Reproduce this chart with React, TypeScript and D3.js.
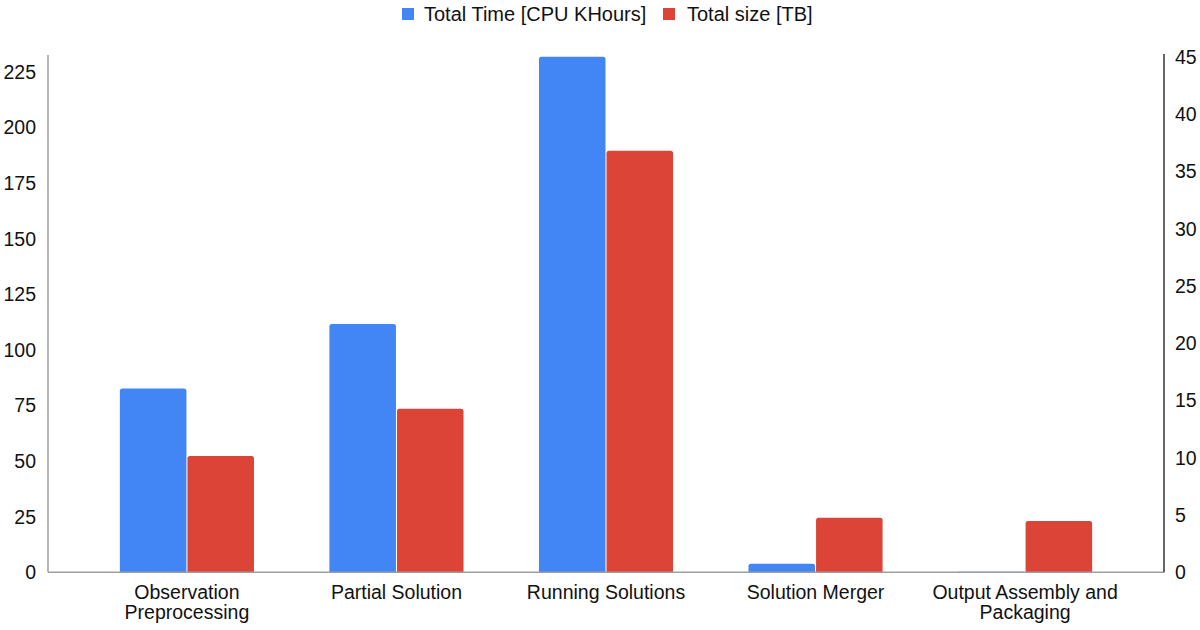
import React from 'react';
import * as d3 from 'd3';

const categories = [
  'Observation Preprocessing',
  'Partial Solution',
  'Running Solutions',
  'Solution Merger',
  'Output Assembly and Packaging',
];
const categoryLines = [
  ['Observation', 'Preprocessing'],
  ['Partial Solution'],
  ['Running Solutions'],
  ['Solution Merger'],
  ['Output Assembly and', 'Packaging'],
];
const totalTime = [82.7, 111.7, 231.9, 3.9, 0.3];
const totalSize = [10.16, 14.29, 36.82, 4.77, 4.48];
const leftTicks = [0, 25, 50, 75, 100, 125, 150, 175, 200, 225];
const rightTicks = [0, 5, 10, 15, 20, 25, 30, 35, 40, 45];
const seriesNames = ['Total Time [CPU KHours]', 'Total size [TB]'];
const seriesColors = ['#4285f4', '#db4437'];

const W = 1200;
const H = 630;
const FONT = '"Liberation Sans", Arial, sans-serif';

export default function App() {
  const margin = { top: 57, right: 36, bottom: 58, left: 48 };
  const x0 = margin.left;
  const x1 = W - margin.right;
  const yBase = H - margin.bottom + 0.3;

  const x = d3.scaleBand<string>()
    .domain(categories)
    .range([x0, x1])
    .paddingInner(0.36)
    .paddingOuter(0.343);

  const xs = d3.scaleBand<number>()
    .domain([0, 1])
    .range([0, x.bandwidth()])
    .paddingInner(0.015);

  const yL = d3.scaleLinear().domain([0, 231.75]).range([yBase, margin.top]);
  const yR = d3.scaleLinear().domain([0, 45]).range([yBase, margin.top]);

  const bars = categories.flatMap((c, i) => [
    { c, s: 0, y: yL(totalTime[i]) },
    { c, s: 1, y: yR(totalSize[i]) },
  ]);

  // legend layout
  const legendItems = [
    { x: 402, textX: 424 },
    { x: 663, textX: 687 },
  ];

  return (
    <div style={{ position: 'fixed', left: 0, top: 0 }}>
      <svg width={W} height={H} style={{ display: 'block', background: '#fff' }} fontFamily={FONT}>
        {/* legend */}
        {seriesNames.map((name, i) => (
          <g key={name}>
            <rect x={legendItems[i].x} y={8} width={12} height={12} fill={seriesColors[i]} />
            <text x={legendItems[i].textX} y={21} fontSize={20} fill="#111">{name}</text>
          </g>
        ))}

        {/* bars */}
        {bars.map((b, i) => {
          const bx = (x(b.c) as number) + (xs(b.s) as number);
          const h = Math.max(0, yBase - b.y);
          const r = Math.min(2.5, h);
          const w = xs.bandwidth();
          const d = `M${bx},${yBase} V${b.y + r} Q${bx},${b.y} ${bx + r},${b.y} H${bx + w - r} Q${bx + w},${b.y} ${bx + w},${b.y + r} V${yBase} Z`;
          return <path key={i} d={d} fill={seriesColors[b.s]} />;
        })}

        {/* baseline & axis lines */}
        <line x1={x0} x2={x1} y1={yBase} y2={yBase} stroke="#9e9e9e" strokeWidth={1.5} />
        <line x1={x0} x2={x0} y1={yBase} y2={margin.top - 2} stroke="#9e9e9e" strokeWidth={1.5} />
        <line x1={x1} x2={x1} y1={yBase} y2={margin.top - 3} stroke="#333" strokeWidth={1.5} />

        {/* left ticks */}
        {leftTicks.map(t => (
          <text key={'l' + t} x={36} y={yL(t)} dy="0.35em" textAnchor="end" fontSize={19.5} fill="#111">{t}</text>
        ))}

        {/* right ticks */}
        {rightTicks.map(t => (
          <text key={'r' + t} x={1175} y={yR(t)} dy="0.35em" textAnchor="start" fontSize={19.5} fill="#111">{t}</text>
        ))}

        {/* category labels */}
        {categories.map((c, i) => (
          <text key={c} x={(x(c) as number) + x.bandwidth() / 2} y={599} textAnchor="middle" fontSize={19.5} fill="#111">
            {categoryLines[i].map((ln, j) => (
              <tspan key={j} x={(x(c) as number) + x.bandwidth() / 2} dy={j === 0 ? 0 : 20}>{ln}</tspan>
            ))}
          </text>
        ))}
      </svg>
    </div>
  );
}
